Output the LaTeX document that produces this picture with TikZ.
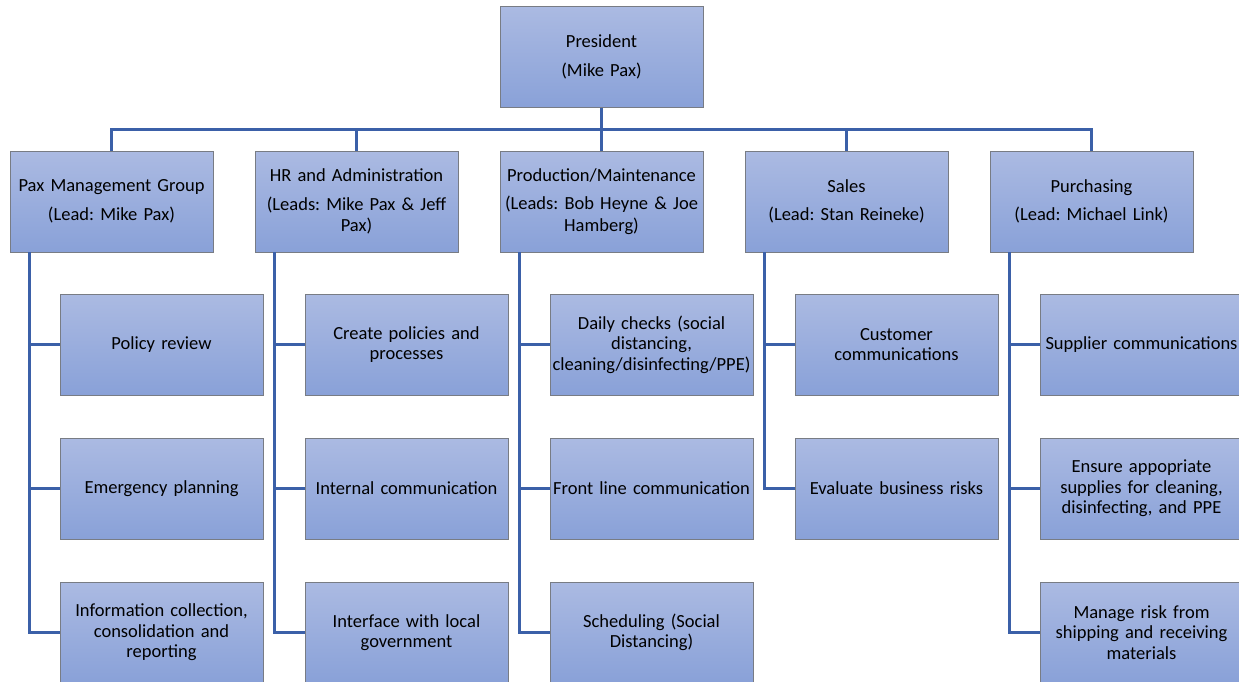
\documentclass[tikz,border=0pt]{standalone}
\usepackage{fontspec}
\setmainfont{Carlito}
\frenchspacing
\hyphenpenalty=10000
\exhyphenpenalty=10000
\definecolor{boxtop}{RGB}{171,186,226}
\definecolor{boxbot}{RGB}{137,161,216}
\definecolor{boxedge}{RGB}{120,124,132}
\definecolor{linkblue}{RGB}{59,96,168}
\tikzset{
    unit/.style={draw=boxedge,line width=0.8pt,top color=boxtop,bottom color=boxbot,
        minimum width=203pt,minimum height=101pt,inner sep=0pt,text width=201pt,align=center},
    head/.style={unit,font=\fontsize{18.5}{21.5}\selectfont},
    task/.style={unit,font=\fontsize{18.5}{20.5}\selectfont},
    link/.style={draw=linkblue,line width=2.4pt}
}
\begin{document}
\begin{tikzpicture}[x=1pt,y=-1pt]
        \useasboundingbox (0,0) rectangle (1239,681);
        % top of the chart
        \node[head] (P) at (601.5,57) {President\\[7pt](Mike Pax)};
        \foreach \t [count=\i] in {{Pax Management Group\\[7pt](Lead: Mike Pax)},
                {HR and Administration\\[7pt](Leads: Mike Pax \& Jeff\\Pax)},
                {Production/Maintenance\\[7pt](Leads: Bob Heyne \& Joe\\Hamberg)},
                {Sales\\[7pt](Lead: Stan Reineke)},
                {Purchasing\\[7pt](Lead: Michael Link)}}{%
            \node[head] (L-\i) at ({111.5+245*(\i-1)},201.5) {\t};
        }
        \foreach \i in {1,...,5}{%
            \draw[link] (P.south) -- ++(0,21.5) -| (L-\i.north);
        }
        % tasks under each group
        \foreach \t [count=\j] in {Policy review,Emergency planning,{Information collection,\\consolidation and\\reporting}}{%
            \node[task] (C-1-\j) at (161.5,{344.5+144*(\j-1)}) {\t};
        }
        \foreach \t [count=\j] in {{Create policies and\\processes},Internal communication,{Interface with local\\government}}{%
            \node[task] (C-2-\j) at (406.5,{344.5+144*(\j-1)}) {\t};
        }
        \foreach \t [count=\j] in {{Daily checks (social\\distancing,\\cleaning/disinfecting/PPE)},Front line communication,{Scheduling (Social\\Distancing)}}{%
            \node[task] (C-3-\j) at (651.5,{344.5+144*(\j-1)}) {\t};
        }
        \foreach \t [count=\j] in {{Customer\\communications},Evaluate business risks}{%
            \node[task] (C-4-\j) at (896.5,{344.5+144*(\j-1)}) {\t};
        }
        \foreach \t [count=\j] in {Supplier communications,{Ensure appopriate\\supplies for cleaning,\\disinfecting, and PPE},{Manage risk from\\shipping and receiving\\materials}}{%
            \node[task] (C-5-\j) at (1141.5,{344.5+144*(\j-1)}) {\t};
        }
        \foreach \i/\n in {1/3,2/3,3/3,4/2,5/3}{%
            \foreach \j in {1,...,\n}{%
                \draw[link] ([xshift=20pt]L-\i.south west) |- (C-\i-\j.west);
            }
        }
    \end{tikzpicture}
\end{document}
